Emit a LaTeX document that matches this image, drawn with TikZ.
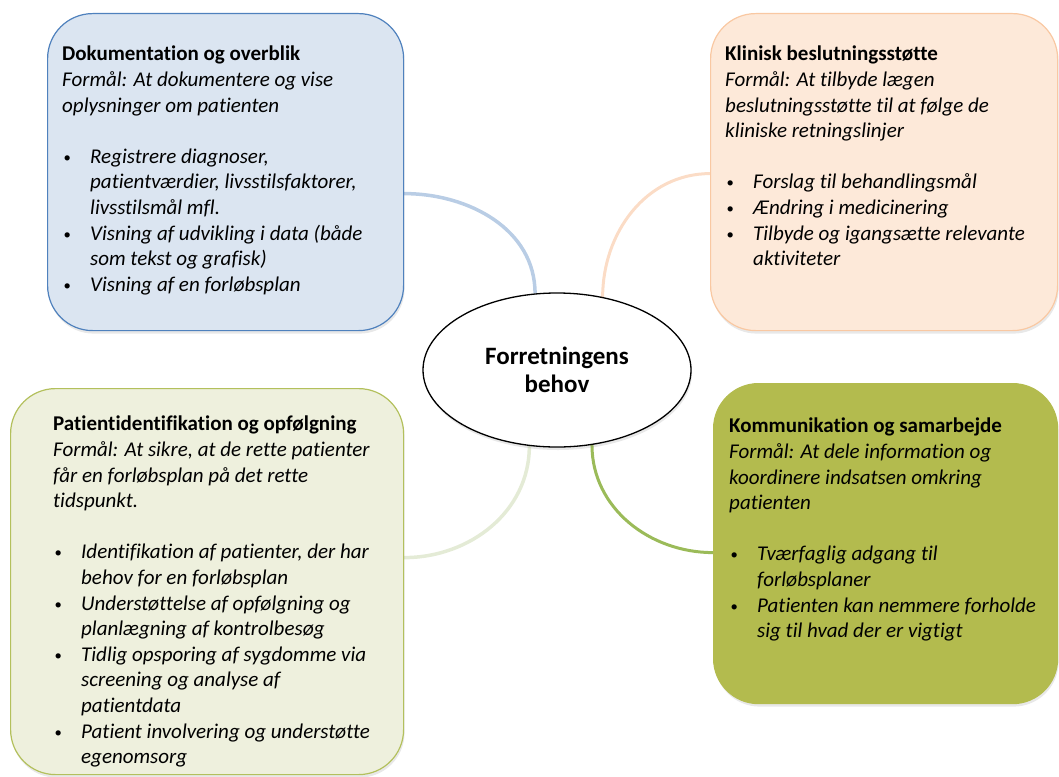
\documentclass[tikz,border=0pt]{standalone}
\usepackage{fontspec}
\setmainfont{Carlito}[Ligatures=NoCommon]
\usepackage{xcolor}
\usetikzlibrary{shapes,positioning,calc,backgrounds,shadows}

\definecolor{docfill}{HTML}{DBE5F1}
\definecolor{docline}{HTML}{4F81BD}
\definecolor{doclink}{HTML}{B9CDE5}
\definecolor{klinfill}{HTML}{FDE9D9}
\definecolor{klinline}{HTML}{F9C8A2}
\definecolor{klinlink}{HTML}{FBDCC6}
\definecolor{patfill}{HTML}{EEF0DD}
\definecolor{patline}{HTML}{B3C05C}
\definecolor{patlink}{HTML}{E4EBD6}
\definecolor{komfill}{HTML}{B3BB4E}
\definecolor{komlink}{HTML}{9BBB59}

\newcommand{\itm}[1]{\makebox[28pt][l]{\hspace{1.5pt}\raisebox{1pt}{\scalebox{0.7}{\textbullet}}}\textit{#1}}
\newcommand{\cnt}[1]{\hspace*{28pt}\textit{#1}}

\begin{document}
\begin{tikzpicture}[x=1pt,y=1pt,
  box/.style={rectangle,rounded corners=45pt,line width=1.2pt,anchor=north west,
    drop shadow={opacity=0.18,shadow xshift=1pt,shadow yshift=-3pt}},
  txt/.style={anchor=north west,inner sep=0pt,align=left,font=\fontsize{21}{25.6}\selectfont},
  link/.style={line width=3.5pt}]
\useasboundingbox (0,0) rectangle (1059,-776);

% boxes
\node[box,fill=docfill,draw=docline,minimum width=356pt,minimum height=317pt] (doc) at (47,-13) {};
\node[box,fill=klinfill,draw=klinline,minimum width=347pt,minimum height=317pt] (klin) at (710,-13) {};
\node[box,fill=patfill,draw=patline,minimum width=393pt,minimum height=386pt] (pat) at (10,-388) {};
\node[box,fill=komfill,draw=komfill,minimum width=344pt,minimum height=320pt] (kom) at (713,-383) {};
\node[ellipse,draw,fill=white,line width=1.3pt,minimum width=268pt,minimum height=154pt,
  align=center,font=\fontsize{25}{28}\selectfont\bfseries,
  drop shadow={opacity=0.18,shadow xshift=1pt,shadow yshift=-3pt}] (core) at (557,-370) {Forretningens\\behov};

% texts
\node[txt] (doctxt) at (62,-46) {\textbf{Dokumentation og overblik}\\
  \textit{Formål: At dokumentere og vise}\\
  \textit{oplysninger om patienten}\\[25.6pt]
  \itm{Registrere diagnoser,}\\
  \cnt{patientværdier, livsstilsfaktorer,}\\
  \cnt{livsstilsmål mfl.}\\
  \itm{Visning af udvikling i data (både}\\
  \cnt{som tekst og grafisk)}\\
  \itm{Visning af en forløbsplan}};
\node[txt] (klintxt) at (725,-46) {\textbf{Klinisk beslutningsstøtte}\\
  \textit{Formål: At tilbyde lægen}\\
  \textit{beslutningsstøtte til at følge de}\\
  \textit{kliniske retningslinjer}\\[25.6pt]
  \itm{Forslag til behandlingsmål}\\
  \itm{Ændring i medicinering}\\
  \itm{Tilbyde og igangsætte relevante}\\
  \cnt{aktiviteter}};
\node[txt] (pattxt) at (53,-416) {\textbf{Patientidentifikation og opfølgning}\\
  \textit{Formål: At sikre, at de rette patienter}\\
  \textit{får en forløbsplan på det rette}\\
  \textit{tidspunkt.}\\[25.6pt]
  \itm{Identifikation af patienter, der har}\\
  \cnt{behov for en forløbsplan}\\
  \itm{Understøttelse af opfølgning og}\\
  \cnt{planlægning af kontrolbesøg}\\
  \itm{Tidlig opsporing af sygdomme via}\\
  \cnt{screening og analyse af}\\
  \cnt{patientdata}\\
  \itm{Patient involvering og understøtte}\\
  \cnt{egenomsorg}};
\node[txt] (komtxt) at (729,-418) {\textbf{Kommunikation og samarbejde}\\
  \textit{Formål: At dele information og}\\
  \textit{koordinere indsatsen omkring}\\
  \textit{patienten}\\[25.6pt]
  \itm{Tværfaglig adgang til}\\
  \cnt{forløbsplaner}\\
  \itm{Patienten kan nemmere forholde}\\
  \cnt{sig til hvad der er vigtigt}};

% links
\begin{scope}[on background layer]
\draw[link,doclink] ([yshift=-21.5pt]doc.east) to[out=0,in=90] (core.106);
\draw[link,klinlink,line width=3pt] ([yshift=-1.5pt]klin.west) to[out=180,in=90] (core.58);
\draw[link,patlink] ([yshift=24pt]pat.east) to[out=0,in=-90] (core.-110);
\draw[link,komlink,line width=3pt] ([yshift=-9pt]kom.west) to[out=180,in=-90] (core.-65);
\end{scope}
\end{tikzpicture}
\end{document}
